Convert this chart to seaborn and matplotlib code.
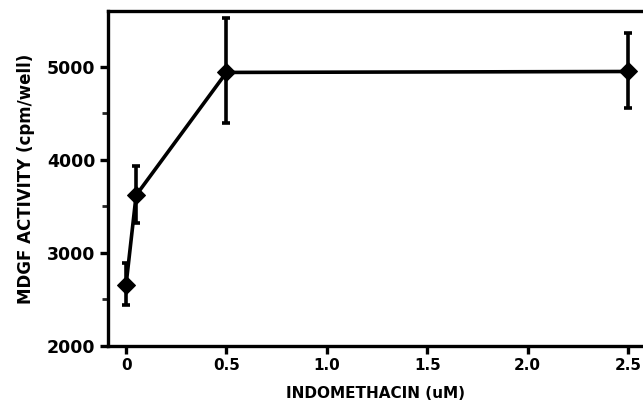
import matplotlib
matplotlib.use("Agg")
import matplotlib.pyplot as plt
import seaborn as sns
import pandas as pd

# values
dose = [0.0, 0.05, 0.5, 2.5]
activity = [2660, 3620, 4940, 4950]
err_low = [2440, 3320, 4400, 4560]
err_high = [2890, 3935, 5525, 5365]

df = pd.DataFrame({"dose": dose, "activity": activity})

sns.set_style("ticks")
plt.rcParams['font.family'] = ['DejaVu Sans']

fig = plt.figure(figsize=(6.43, 4.08), dpi=100)
ax = fig.add_axes([0.168, 0.152, 0.832, 0.821])

sns.lineplot(data=df, x="dose", y="activity", ax=ax, color="black",
             linewidth=2.6, marker="D", markersize=9, markeredgecolor="black")

yerr = [[a - lo for a, lo in zip(activity, err_low)],
        [hi - a for a, hi in zip(activity, err_high)]]
ax.errorbar(dose, activity, yerr=yerr, fmt="none", ecolor="black",
            elinewidth=2.6, capsize=3, capthick=2.6)

ax.set_xlim(-0.09, 2.575)
ax.set_ylim(2000, 5600)
ax.set_xticks([0, 0.5, 1.0, 1.5, 2.0, 2.5])
ax.set_xticklabels(["0", "0.5", "1.0", "1.5", "2.0", "2.5"])
ax.set_yticks([2000, 3000, 4000, 5000])
ax.set_yticks([2500, 3500, 4500], minor=True)

for s in ["left", "bottom", "top"]:
    ax.spines[s].set_linewidth(2.4)
    ax.spines[s].set_color("black")
ax.spines["right"].set_visible(False)

ax.tick_params(axis="both", which="major", length=6, width=2.4, colors="black",
               pad=3)
ax.tick_params(axis="x", labelsize=11)
ax.tick_params(axis="y", labelsize=12.5)
ax.tick_params(axis="y", which="minor", length=4, width=2.0)
for lab in ax.get_xticklabels() + ax.get_yticklabels():
    lab.set_fontweight("heavy")

ax.set_xlabel("INDOMETHACIN (uM)", fontsize=11, fontweight="heavy",
              labelpad=9, color="black")
ax.set_ylabel("MDGF ACTIVITY (cpm/well)", fontsize=12, fontweight="heavy",
              labelpad=9, color="black")

fig.savefig("out.png", dpi=100)
